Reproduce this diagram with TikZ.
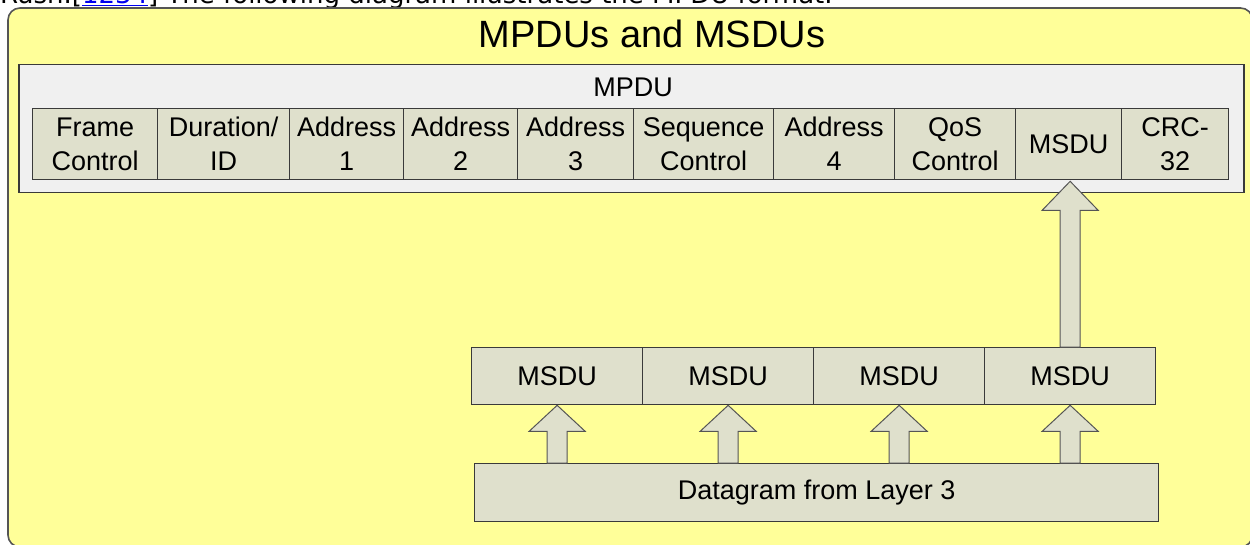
\documentclass[tikz,border=0pt]{standalone}
\usepackage{fontspec}
\setmainfont{Liberation Sans}
\newfontfamily\verdfont{DejaVu Sans}
\usetikzlibrary{calc}
\definecolor{bgyellow}{HTML}{FFFF99}
\definecolor{cellfill}{HTML}{DFE0CC}
\definecolor{boxfill}{HTML}{F0F0F0}
\definecolor{edgec}{HTML}{3A3A3A}
\definecolor{framec}{HTML}{555555}
\definecolor{linkblue}{HTML}{0000EE}
\tikzset{
  cell/.style={draw=edgec, line width=1.3pt, fill=cellfill, inner sep=0pt,
    anchor=north west, align=center, font=\fontsize{27}{34}\selectfont},
  field/.style={cell, minimum height=71pt},
  msducell/.style={cell, minimum width=171pt, minimum height=57pt},
  blockarrow/.style={draw=framec, line width=1pt, fill=cellfill, line join=miter},
  lbl/.style={inner sep=0pt, anchor=base, font=\fontsize{27}{34}\selectfont}
}
% #1 base coordinate, #2 tip coordinate, #3 head length
\newcommand{\blockup}[3]{%
  \draw[blockarrow] ([xshift=-10pt]#1) -- ([xshift=-10pt,yshift=-#3pt]#2)
    -- ([xshift=-28pt,yshift=-#3pt]#2) -- (#2)
    -- ([xshift=28pt,yshift=-#3pt]#2) -- ([xshift=10pt,yshift=-#3pt]#2)
    -- ([xshift=10pt]#1) -- cycle;}
\begin{document}
\begin{tikzpicture}[x=1pt,y=-1pt]
\useasboundingbox (0,0) rectangle (1250,544);
\clip (0,0) rectangle (1250,544);
\fill[white] (0,0) rectangle (1250,544);
% intro line (cut off at top)
\node[anchor=base west, inner sep=0pt, font=\verdfont\fontsize{26}{30}\selectfont] (intro) at (0,3.5)
  {Rush.[\textcolor{linkblue}{\underline{1234}}] The following diagram illustrates the MPDU format.};
% outer frame
\draw[framec, line width=1.6pt, fill=bgyellow, rounded corners=12pt] (8,8) rectangle (1252.5,547);
\node[inner sep=0pt, anchor=base, font=\fontsize{38}{44}\selectfont] (title) at (652,47) {MPDUs and MSDUs};
% MPDU box
\node[draw=edgec, line width=1.5pt, fill=boxfill, anchor=north west, inner sep=0pt,
  minimum width=1225pt, minimum height=128pt] (mpdu) at (18,63.5) {};
\node[lbl] (mpdulbl) at (633,96) {MPDU};
% fields
\node[field, minimum width=125pt] (fc)  at (32,108)  {Frame\\Control};
\node[field, minimum width=132pt] (dur) at (157,108) {Duration/\\ID};
\node[field, minimum width=114pt] (a1)  at (289,108) {Address\\1};
\node[field, minimum width=114pt] (a2)  at (403,108) {Address\\2};
\node[field, minimum width=116pt] (a3)  at (517,108) {Address\\3};
\node[field, minimum width=140pt] (sc)  at (633,108) {Sequence\\Control};
\node[field, minimum width=121pt] (a4)  at (773,108) {Address\\4};
\node[field, minimum width=121pt] (qos) at (894,108) {QoS\\Control};
\node[field, minimum width=106pt] (mf)  at (1015,108) {MSDU};
\node[field, minimum width=107pt] (crc) at (1121,108) {CRC-\\32};
% MSDU row
\node[msducell] (m1) at (471,347) {MSDU};
\node[msducell] (m2) at (642,347) {MSDU};
\node[msducell] (m3) at (813,347) {MSDU};
\node[msducell] (m4) at (984,347) {MSDU};
% datagram
\node[cell, minimum width=684pt, minimum height=58pt] (dg) at (474,463) {Datagram from Layer 3};
% arrow end points
\coordinate (d1) at (m1.south |- dg.north);
\coordinate (d2) at (m2.south |- dg.north);
\coordinate (d3) at (m3.south |- dg.north);
\coordinate (d4) at (m4.south |- dg.north);
\coordinate (t1) at (m1.south);
\coordinate (t2) at (m2.south);
\coordinate (t3) at (m3.south);
\coordinate (t4) at (m4.south);
\coordinate (b5) at (m4.north);
\coordinate (t5) at ([yshift=-1pt]m4.north |- mf.south);
% arrows
\blockup{d1}{t1}{26}
\blockup{d2}{t2}{26}
\blockup{d3}{t3}{26}
\blockup{d4}{t4}{26}
\blockup{b5}{t5}{29}
\end{tikzpicture}
\end{document}
